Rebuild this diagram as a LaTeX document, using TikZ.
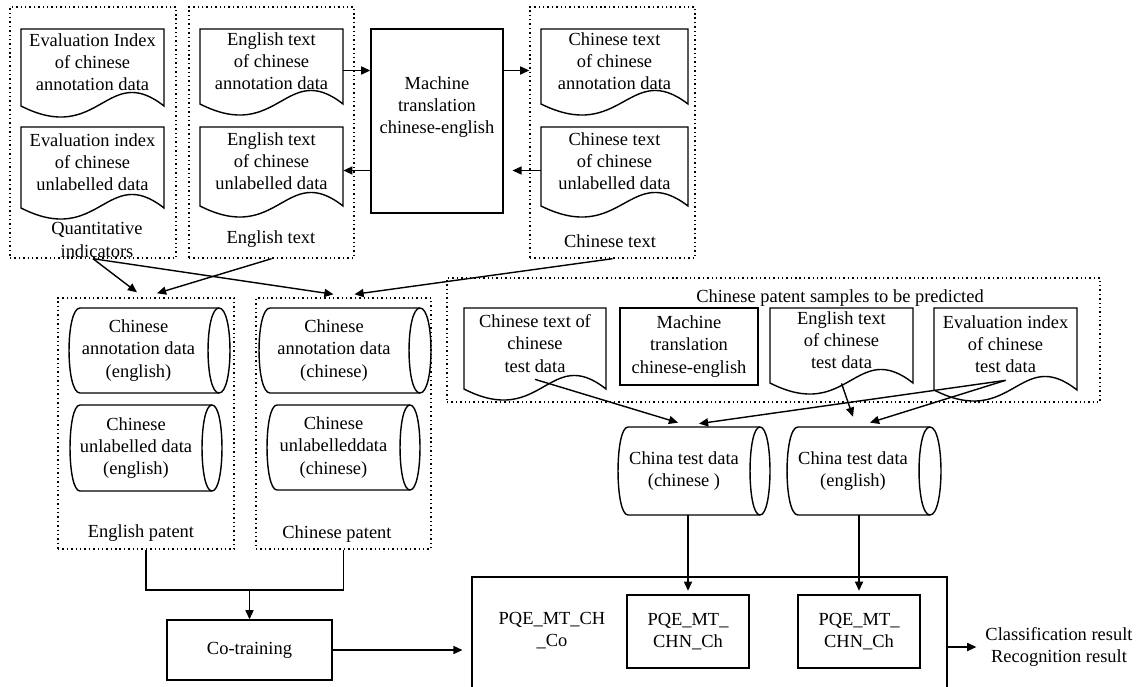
\documentclass[tikz,border=0pt]{standalone}
\usepackage{fontspec}
\setmainfont{Liberation Serif}
\usetikzlibrary{arrows.meta,calc,fit}

\tikzset{
  txt/.style={align=center,font=\fontsize{10.5}{12.6}\selectfont,inner sep=0pt},
  ln/.style={line width=0.8pt},
  grp/.style={draw,line width=0.8pt,dash pattern=on 0.8pt off 1.7pt,inner sep=0pt},
  box/.style={draw,line width=0.8pt,inner sep=0pt},
  arr/.style={line width=0.8pt,-{Triangle[length=5.2pt,width=4.6pt]}},
}

% document symbol: name, left x, right x, top y, side bottom y, text
\newcommand\docnode[6]{%
  \draw[ln] (#2,#4) -- (#2,#5) .. controls ({#2+0.55*(#3-#2)},{#5+40}) and ({#2+0.6*(#3-#2)},{#5-45}) .. (#3,#5) -- (#3,#4) -- cycle;
  \node[txt,minimum width={(#3-#2)*0.02cm},minimum height={(#5-#4-10)*0.02cm}] (#1) at ({(#2+#3)/2},{(#4+#5-10)/2}) {#6};
}

% stored-data symbol: name, left end, right end, top y, bottom y, end bulge, text
\newcommand\cylnode[7]{%
  \draw[ln] (#2,#4) -- (#3,#4) .. controls ({#3+1.33*#6},#4) and ({#3+1.33*#6},#5) .. (#3,#5) -- (#2,#5) .. controls ({#2-1.33*#6},#5) and ({#2-1.33*#6},#4) .. (#2,#4) -- cycle;
  \draw[ln] (#3,#4) .. controls ({#3-1.33*#6},#4) and ({#3-1.33*#6},#5) .. (#3,#5);
  \node[txt,minimum width={(#3-#2)*0.02cm},minimum height={(#5-#4)*0.02cm}] (#1) at ({(#2+#3)/2-#6},{(#4+#5)/2}) {#7};
}

\begin{document}
\begin{tikzpicture}[x=0.02cm,y=-0.02cm]
\useasboundingbox (0,0) rectangle (1141,686);

% ---- source material ----
\node[grp,fit={(10,7) (176,258)}] (g1) {};
\node[grp,fit={(189,7) (354,258)}] (g2) {};
\node[grp,fit={(530,7) (695,258)}] (g3) {};

\docnode{ev1}{21}{164}{29}{106}{Evaluation Index\\of chinese\\annotation data}
\docnode{ev2}{21}{164}{127}{208}{Evaluation index\\of chinese\\unlabelled data}
\node[txt] (lq) at (97,240) {Quantitative\\indicators};

\docnode{ed1}{200}{343}{29}{104}{English text\\of chinese\\annotation data}
\docnode{ed2}{200}{343}{127}{206}{English text\\of chinese\\unlabelled data}
\node[txt] (le) at (271,239) {English text};

\node[box,minimum width=2.64cm,minimum height=3.68cm] (mt) at (437,121) {};
\node[txt] (mtl) at (437,107) {Machine\\translation\\chinese-english};

\docnode{cd1}{541}{688}{29}{104}{Chinese text\\of chinese\\annotation data}
\docnode{cd2}{541}{688}{127}{206}{Chinese text\\of chinese\\unlabelled data}
\node[txt] (lc) at (610,241) {Chinese text};

% translation flow
\coordinate (a1) at ($(ed1.east)+(0,9)$);
\draw[arr] (a1) -- (a1 -| mt.west);
\coordinate (a2) at ($(ed2.east)+(0,9)$);
\draw[arr] (a2 -| mt.west) -- (a2);
\coordinate (a3) at ($(cd1.west)+(0,9)$);
\draw[arr] (a3 -| mt.east) -- (a3 -| g3.west);
\coordinate (a4) at ($(cd2.west)+(0,9)$);
\coordinate (a4m) at (a4 -| mt.east);
\draw[arr] (a4) -- ([xshift=5pt]a4m);

% ---- patent data sets ----
\node[grp,fit={(58,298) (234,549)}] (gE) {};
\node[grp,fit={(256,298) (431,549)}] (gC) {};
\cylnode{cae}{80}{219}{308}{393}{11}{Chinese\\annotation data\\(english)}
\cylnode{cue}{80}{212}{405}{491}{10}{Chinese\\unlabelled data\\(english)}
\cylnode{cac}{270}{420}{308}{393}{11}{Chinese\\annotation data\\(chinese)}
\cylnode{cuc}{277}{410}{405}{490}{10}{Chinese\\unlabelleddata\\(chinese)}
\node[txt] (lep) at (141,533) {English patent};
\node[txt] (lcp) at (337,534) {Chinese patent};

\draw[arr] (g1.south) -- ($(gE.north)+(-9,-5)$);
\draw[arr] (g1.south) -- ($(gC.north)+(-10,-3)$);
\draw[arr] (g2.south) -- ($(gE.north)+(11,-4)$);
\draw[arr] (g3.south) -- ($(gC.north)+(11,-3)$);

% ---- co-training ----
\node[box,txt,minimum width=3.3cm,minimum height=1.2cm] (cot) at (249.5,650) {Co-training};
\coordinate (jn) at (249.5,590);
\draw[ln] (gE.south) |- (jn) -| (gC.south);
\draw[arr] (jn) -- (cot.north);

% ---- samples to be predicted ----
\node[grp,fit={(447,278) (1100,402)}] (gP) {};
\node[txt] (lp) at (840,298) {Chinese patent samples to be predicted};
\docnode{pd1}{464}{606}{308}{389}{Chinese text of\\chinese\\test data}
\node[box,txt,minimum width=2.76cm,minimum height=1.54cm] (mtp) at (689,346.5) {Machine\\translation\\chinese-english};
\docnode{pd2}{770}{913}{308}{383}{English text\\of chinese\\test data}
\docnode{pd3}{934}{1077}{308}{390}{Evaluation index\\of chinese\\test data}

\cylnode{tcc}{628}{760}{427}{515}{10}{China test data\\(chinese )}
\cylnode{tce}{798}{930}{427}{515}{11}{China test data\\(english)}

\draw[arr] (pd1.south) -- ($(tcc.north)+(-6,-4)$);
\draw[arr] (pd3.south) -- ($(tcc.north)+(15,-3)$);
\draw[arr] ($(pd2.south)+(0,10)$) -- ($(tce.north)+(0,-10)$);
\draw[arr] (pd3.south) -- ($(tce.north)+(17,-4)$);

% ---- models and results ----
\node[box,fit={(472,577) (947,700)}] (big) {};
\node[txt] (co) at (552,631) {PQE\_MT\_CH\\\_Co};
\node[box,txt,minimum width=2.44cm,minimum height=1.46cm] (pq1) at (688,631.5) {PQE\_MT\_\\CHN\_Ch};
\node[box,txt,minimum width=2.44cm,minimum height=1.46cm] (pq2) at (859,631.5) {PQE\_MT\_\\CHN\_Ch};
\draw[arr] (tcc.south -| pq1.north) -- ([yshift=2pt]pq1.north);
\draw[arr] (tce.south -| pq2.north) -- ([yshift=2pt]pq2.north);

\coordinate (cin) at (cot.east -| big.west);
\draw[arr] (cot.east) -- ([xshift=-5pt]cin);
\node[txt] (res) at (1059,647) {Classification result\\Recognition result};
\coordinate (rout) at (res.west -| big.east);
\draw[arr] (rout) -- ([xshift=-5pt]res.west);
\end{tikzpicture}
\end{document}
